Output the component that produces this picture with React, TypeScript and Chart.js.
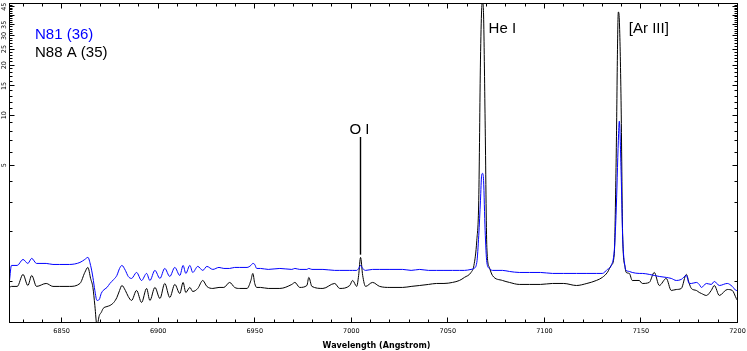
import React, { useEffect, useRef } from 'react';
import { Chart, registerables } from 'chart.js';

Chart.register(...registerables);

// Wavelength samples (Angstrom)
const WAVELENGTH = [
  6823, 6824, 6827, 6830, 6832.5, 6834.5, 6837, 6842, 6845.5, 6849,
  6854, 6859.5, 6862, 6863.6, 6865, 6866.2, 6867.2, 6868.3, 6869.5, 6870.5,
  6871.5, 6873.5, 6875, 6877, 6878.6, 6880, 6881.2, 6883, 6884.5, 6886.2,
  6888.8, 6891.4, 6894, 6895.7, 6898.3, 6900.9, 6903.4, 6906, 6908.6, 6911.2,
  6912.9, 6914.3, 6916.4, 6917.9, 6920.5, 6923.1, 6925.2, 6928.3, 6931.5, 6934,
  6937, 6939.6, 6942.2, 6946, 6948, 6949, 6950, 6951, 6953, 6957,
  6963, 6969.2, 6970.8, 6973.3, 6977, 6978, 6979.6, 6985.3, 6991.4, 6994,
  6999.2, 7000.7, 7002.8, 7003.8, 7004.8, 7005.9, 7007.4, 7011, 7014.7, 7020,
  7026.6, 7031, 7035.4, 7040, 7044.2, 7048, 7052.4, 7056, 7058.6, 7062,
  7063.5, 7065, 7066, 7066.9, 7067.5, 7068, 7068.5, 7069.3, 7070.2, 7071.5,
  7073.1, 7078.3, 7081.9, 7087, 7092.3, 7098, 7104.2, 7110, 7116.6, 7122,
  7126.9, 7130, 7132.6, 7134.6, 7136.2, 7137.1, 7138.3, 7138.8, 7139.7, 7140.5,
  7141.8, 7142.4, 7144, 7145.5, 7149.1, 7150.7, 7154.3, 7156.9, 7159.5, 7163.1,
  7165.7, 7168.3, 7170.9, 7173.5, 7175, 7176.1, 7178.7, 7180.2, 7181.3, 7183.9,
  7186.4, 7188, 7190.6, 7194.7, 7197.3, 7199.4, 7200,
];

// N81 (36) flux
const N81 = [
  1.014, 1.249, 1.249, 1.357, 1.284, 1.377, 1.284, 1.284, 1.266, 1.266,
  1.266, 1.302, 1.357, 1.396, 1.249, 1.058, 0.883, 0.769, 0.78, 0.847,
  0.883, 0.921, 0.973, 1.029, 1.087, 1.198, 1.249, 1.166, 1.072, 1.043,
  1.133, 1.014, 1.118, 1.014, 1.166, 1.043, 1.198, 1.072, 1.215, 1.087,
  1.249, 1.118, 1.249, 1.133, 1.232, 1.166, 1.232, 1.182, 1.215, 1.198,
  1.198, 1.215, 1.215, 1.215, 1.249, 1.284, 1.266, 1.198, 1.198, 1.182,
  1.198, 1.182, 1.198, 1.182, 1.182, 1.198, 1.182, 1.182, 1.166, 1.166,
  1.166, 1.166, 1.166, 1.198, 1.249, 1.198, 1.166, 1.182, 1.182, 1.182,
  1.182, 1.166, 1.182, 1.166, 1.166, 1.166, 1.166, 1.166, 1.166, 1.182,
  1.198, 1.302, 1.89, 3.08, 4.35, 4.47, 4.06, 2.03, 1.302, 1.198,
  1.166, 1.166, 1.149, 1.133, 1.133, 1.133, 1.118, 1.118, 1.118, 1.118,
  1.118, 1.118, 1.182, 1.249, 1.54, 2.5, 7.07, 9.21, 4.67, 1.89,
  1.215, 1.166, 1.149, 1.133, 1.118, 1.118, 1.103, 1.087, 1.072, 1.058,
  1.043, 1.014, 1.029, 1.087, 0.973, 0.973, 0.987, 0.96, 0.921, 0.973,
  0.96, 1.0, 0.946, 0.973, 0.934, 0.883, 0.883,
];

// N88 A (35) flux
const N88A = [
  0.921, 0.934, 0.934, 1.103, 0.946, 1.087, 0.934, 0.973, 0.934, 0.934,
  0.934, 0.973, 1.133, 1.215, 1.043, 0.921, 0.717, 0.543, 0.624, 0.651,
  0.688, 0.707, 0.717, 0.748, 0.801, 0.883, 0.946, 0.883, 0.812, 0.769,
  0.883, 0.748, 0.908, 0.769, 0.921, 0.79, 0.973, 0.801, 0.96, 0.847,
  0.987, 0.859, 0.921, 0.871, 0.908, 1.014, 0.934, 0.908, 0.921, 0.921,
  0.987, 0.921, 0.908, 0.908, 1.014, 1.118, 0.973, 0.921, 0.921, 0.908,
  0.908, 0.96, 0.987, 0.921, 0.946, 1.058, 0.934, 0.908, 0.973, 0.908,
  0.946, 1.014, 0.934, 1.087, 1.396, 1.087, 0.934, 0.987, 0.934, 0.921,
  0.921, 0.934, 0.946, 0.96, 0.973, 0.973, 0.987, 1.014, 1.058, 1.133,
  1.249, 1.77, 3.08, 21.5, 42.9, 48, 40.1, 9.34, 1.6, 1.215,
  1.087, 1.014, 0.987, 0.96, 0.96, 0.96, 0.973, 0.973, 0.946, 0.973,
  1.014, 1.058, 1.133, 1.249, 1.47, 4.86, 41.8, 37.4, 12.3, 1.95,
  1.215, 1.133, 1.118, 1.014, 1.014, 0.973, 0.987, 1.133, 0.946, 1.043,
  0.883, 0.895, 0.908, 1.103, 0.973, 0.908, 0.883, 0.859, 0.847, 0.824,
  0.883, 0.946, 0.824, 0.895, 0.883, 0.79, 0.769,
];

const X_MIN = 6823;
const X_MAX = 7200;
const Y_MIN = 0.5666;
const Y_MAX = 47;

const X_TICK_LABELS = [6850, 6900, 6950, 7000, 7050, 7100, 7150, 7200];
const Y_TICK_LABELS = [5, 10, 15, 20, 25, 30, 35, 45];

const SERIES_NAMES = ['N81 (36)', 'N88 A (35)'];
const LINE_NAMES = ['He I', '[Ar III]', 'O I'];
const LINE_WAVES = [7068, 7138.3, 7004.8];
const OI_SPAN = [1.45, 7.4];

const BLUE = '#0000ff';
const BLACK = '#000000';
const TICK_FONT = '"DejaVu Sans", sans-serif';
const LABEL_FONT = '"Liberation Sans", Arial, sans-serif';

const decor = {
  id: 'decor',
  afterDatasetsDraw(chart: any) {
    const { ctx, chartArea: a, scales } = chart;
    const xs = scales.x;
    const ys = scales.y;
    const snap = (v: number) => Math.round(v - 0.5) + 0.5;
    ctx.save();
    ctx.strokeStyle = '#000';
    ctx.lineWidth = 1;

    // frame
    ctx.strokeRect(a.left, a.top, a.right - a.left, a.bottom - a.top);

    // x ticks (bottom + top)
    ctx.beginPath();
    for (let v = 6830; v <= X_MAX; v += 10) {
      const px = snap(xs.getPixelForValue(v));
      const len = v % 50 === 0 ? 5 : 3;
      ctx.moveTo(px, a.bottom);
      ctx.lineTo(px, a.bottom - len);
      ctx.moveTo(px, a.top);
      ctx.lineTo(px, a.top + len);
    }
    // y ticks (left + right)
    for (let v = 1; v <= 46; v += 1) {
      const py = snap(ys.getPixelForValue(v));
      const len = v % 5 === 0 ? 5 : 3;
      ctx.moveTo(a.left, py);
      ctx.lineTo(a.left + len, py);
      ctx.moveTo(a.right, py);
      ctx.lineTo(a.right - len, py);
    }
    ctx.stroke();

    // x tick labels
    ctx.fillStyle = '#000';
    ctx.font = `6.5px ${TICK_FONT}`;
    ctx.textAlign = 'center';
    ctx.textBaseline = 'middle';
    for (const v of X_TICK_LABELS) {
      ctx.fillText(String(v), xs.getPixelForValue(v), a.bottom + 9);
    }
    // y tick labels (rotated)
    for (const v of Y_TICK_LABELS) {
      ctx.save();
      ctx.translate(a.left - 5.5, ys.getPixelForValue(v));
      ctx.rotate(-Math.PI / 2);
      ctx.fillText(String(v), 0, 0);
      ctx.restore();
    }
    // axis title
    ctx.font = `bold 8px ${TICK_FONT}`;
    ctx.fillText('Wavelength (Angstrom)', (a.left + a.right) / 2 + 3, a.bottom + 23);

    // series names
    ctx.font = `15px ${LABEL_FONT}`;
    ctx.textAlign = 'left';
    ctx.textBaseline = 'alphabetic';
    ctx.fillStyle = BLUE;
    ctx.fillText(SERIES_NAMES[0], 35, 39);
    ctx.fillStyle = BLACK;
    ctx.fillText(SERIES_NAMES[1], 35, 57);

    // line identifications
    ctx.fillText(LINE_NAMES[0], xs.getPixelForValue(LINE_WAVES[0]) + 6, 33);
    ctx.fillText(LINE_NAMES[1], xs.getPixelForValue(LINE_WAVES[1]) + 10.5, 33);
    const ox = snap(xs.getPixelForValue(LINE_WAVES[2]));
    const oTop = ys.getPixelForValue(OI_SPAN[1]);
    ctx.textAlign = 'center';
    ctx.fillText(LINE_NAMES[2], ox - 1, oTop - 3);
    ctx.lineWidth = 1.4;
    ctx.beginPath();
    ctx.moveTo(ox, oTop);
    ctx.lineTo(ox, ys.getPixelForValue(OI_SPAN[0]));
    ctx.stroke();
    ctx.restore();
  },
};

export default function App() {
  const ref = useRef<HTMLCanvasElement | null>(null);

  useEffect(() => {
    if (!ref.current) return;
    const chart = new Chart(ref.current, {
      type: 'line',
      data: {
        datasets: [
          {
            label: SERIES_NAMES[0],
            data: WAVELENGTH.map((w, i) => ({ x: w, y: N81[i] })),
            borderColor: BLUE,
            borderWidth: 1,
            pointRadius: 0,
            cubicInterpolationMode: 'monotone',
          },
          {
            label: SERIES_NAMES[1],
            data: WAVELENGTH.map((w, i) => ({ x: w, y: N88A[i] })),
            borderColor: BLACK,
            borderWidth: 1,
            pointRadius: 0,
            cubicInterpolationMode: 'monotone',
          },
        ],
      },
      options: {
        responsive: false,
        animation: false,
        events: [],
        layout: { padding: { left: 9.5, right: 9.5, top: 3.5, bottom: 28.5 } },
        plugins: { legend: { display: false }, tooltip: { enabled: false } },
        scales: {
          x: { type: 'linear', min: X_MIN, max: X_MAX, display: false },
          y: { type: 'logarithmic', min: Y_MIN, max: Y_MAX, display: false },
        },
      },
      plugins: [decor],
    } as any);
    return () => chart.destroy();
  }, []);

  return (
    <div style={{ position: 'fixed', left: 0, top: 0, width: 747, height: 351, background: '#fff' }}>
      <canvas ref={ref} width={747} height={351} style={{ display: 'block' }} />
    </div>
  );
}
